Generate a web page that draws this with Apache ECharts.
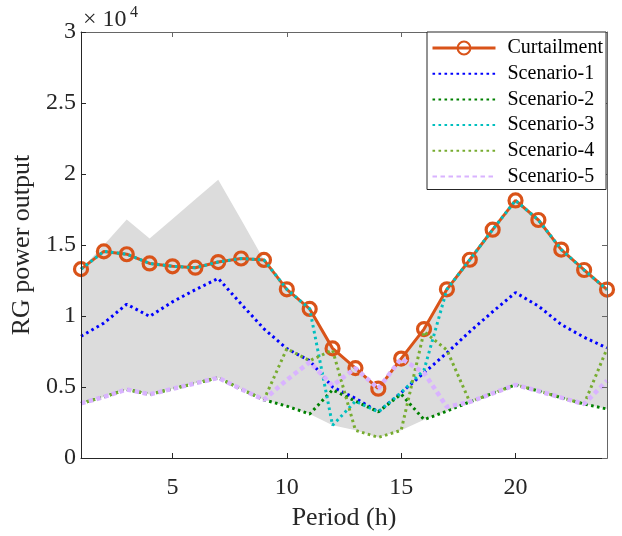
<!DOCTYPE html>
<html>
<head>
<meta charset="utf-8">
<script src="https://cdn.jsdelivr.net/npm/echarts/dist/echarts.min.js"></script>
<style>
html, body { margin: 0; padding: 0; background: #fff; }
#chart { width: 622px; height: 536px; }
</style>
</head>
<body>
<div id="chart"></div>
<script>
// 时段 (h)
const hours = [1, 2, 3, 4, 5, 6, 7, 8, 9, 10, 11, 12, 13, 14, 15, 16, 17, 18, 19, 20, 21, 22, 23, 24];
const xTicks = [5, 10, 15, 20];

// 弃电 / 各场景出力
const curtailment = [13300, 14550, 14350, 13700, 13500, 13400, 13800, 14050, 13950, 11880, 10500, 7720, 6330, 4880, 7000, 9080, 11880, 13960, 16080, 18140, 16760, 14680, 13240, 11860];
const scenario1 = [8570, 9500, 10830, 9970, 11000, 11850, 12650, 10850, 9100, 7700, 6850, 5000, 4200, 3250, 4600, 6000, 7400, 8900, 10300, 11650, 10700, 9400, 8500, 7750];
const scenario2 = [3850, 4300, 4830, 4480, 4870, 5260, 5650, 4850, 4100, 3650, 3100, 4800, 4000, 3250, 4500, 2700, 3300, 3950, 4550, 5150, 4720, 4250, 3800, 3450];
const scenario3 = [13300, 14550, 14350, 13700, 13500, 13400, 13800, 14050, 13950, 11880, 10500, 2300, 4000, 3250, 4600, 6200, 11880, 13960, 16080, 18140, 16760, 14680, 13240, 11860];
const scenario4 = [3850, 4300, 4830, 4480, 4870, 5260, 5650, 4850, 4100, 7700, 6850, 7600, 1950, 1450, 1950, 8900, 7600, 3950, 4550, 5150, 4720, 4250, 3800, 7700];
const scenario5 = [3850, 4300, 4830, 4480, 4870, 5260, 5650, 4850, 4100, 5500, 6750, 5100, 6330, 4880, 7000, 6000, 3600, 3950, 4550, 5150, 4720, 4250, 3800, 5450];

// 灰色区间上下界
const bandUpper = [13300, 15000, 16800, 15450, 16830, 18220, 19600, 16800, 13950, 11880, 10500, 7720, 6330, 4880, 7000, 9080, 11880, 13960, 16080, 18140, 16760, 14680, 13240, 11860];
const bandLower = [3850, 4300, 4830, 4480, 4870, 5260, 5650, 4850, 4100, 3650, 3100, 2300, 1950, 1450, 1950, 2700, 3300, 3950, 4550, 5150, 4720, 4250, 3800, 3450];

const FONT = 'Liberation Serif';
const AXIS = '#262626';
const ORANGE = '#d95319';

const pairs = arr => hours.map((h, i) => [h, arr[i]]);

function dotted(name, data, color, width, dash) {
    return {
        type: 'line',
        name: name,
        data: pairs(data),
        symbol: 'none',
        lineStyle: { color: color, width: width, type: dash, cap: 'butt' },
        itemStyle: { color: color },
        z: 3
    };
}

const scenarioNames = ['Scenario-1', 'Scenario-2', 'Scenario-3', 'Scenario-4', 'Scenario-5'];

var chart = echarts.init(document.getElementById('chart'));

var option = {
    backgroundColor: '#fff',
    animation: false,
    grid: { left: 81, right: 15, top: 32, bottom: 75 },
    graphic: [
        { type: 'text', left: 83, top: 8, style: { text: '× 10', font: '24px "Liberation Serif"', fill: AXIS } },
        { type: 'text', left: 130, top: 5, style: { text: '4', font: '16px "Liberation Serif"', fill: AXIS } }
    ],
    legend: {
        data: [{
            name: 'Curtailment',
            lineStyle: { width: 3, color: ORANGE }
        }].concat(scenarioNames.map(n => ({ name: n, itemStyle: { opacity: 0 } }))),
        orient: 'vertical',
        left: 427,
        top: 32,
        padding: [6, 3, 3, 4],
        itemGap: 5.7,
        itemWidth: 63,
        itemHeight: 16,
        backgroundColor: '#fff',
        borderColor: AXIS,
        borderWidth: 1,
        borderRadius: 0,
        selectedMode: false,
        z: 20,
        textStyle: { fontFamily: FONT, fontSize: 20, color: '#000', lineHeight: 20, padding: [0, 0, 0, 7] }
    },
    xAxis: [{
        type: 'value',
        min: 1,
        max: 24,
        z: 10,
        name: 'Period (h)',
        nameLocation: 'middle',
        nameGap: 47,
        nameTextStyle: { fontFamily: FONT, fontSize: 26, color: AXIS },
        axisLine: { onZero: false, lineStyle: { color: AXIS, width: 1 } },
        axisTick: { inside: true, length: 5, customValues: xTicks, lineStyle: { color: AXIS } },
        axisLabel: { customValues: xTicks, margin: 18, fontFamily: FONT, fontSize: 24, color: AXIS },
        splitLine: { show: false }
    }, {
        type: 'value',
        position: 'top',
        min: 1,
        max: 24,
        z: 10,
        axisLine: { onZero: false, lineStyle: { color: '#666', width: 1 } },
        axisTick: { inside: true, length: 5, customValues: xTicks, lineStyle: { color: '#666' } },
        axisLabel: { show: false },
        splitLine: { show: false }
    }],
    yAxis: [{
        type: 'value',
        min: 0,
        max: 30000,
        interval: 5000,
        z: 10,
        name: 'RG power output',
        nameLocation: 'middle',
        nameGap: 46,
        nameTextStyle: { fontFamily: FONT, fontSize: 26, color: AXIS },
        axisLine: { show: true, onZero: false, lineStyle: { color: AXIS, width: 1 } },
        axisTick: { show: true, inside: true, length: 5, lineStyle: { color: AXIS } },
        axisLabel: {
            margin: 5,
            fontFamily: FONT,
            fontSize: 24,
            color: AXIS,
            formatter: v => String(v / 10000)
        },
        splitLine: { show: false }
    }, {
        type: 'value',
        position: 'right',
        min: 0,
        max: 30000,
        interval: 5000,
        z: 10,
        axisLine: { show: true, onZero: false, lineStyle: { color: '#666', width: 1 } },
        axisTick: { show: true, inside: true, length: 5, lineStyle: { color: '#666' } },
        axisLabel: { show: false },
        splitLine: { show: false }
    }],
    series: [{
        // 区间上界, 灰色填充到 0
        type: 'line',
        name: 'bandUpper',
        data: pairs(bandUpper),
        symbol: 'none',
        silent: true,
        lineStyle: { width: 0, opacity: 0 },
        areaStyle: { color: '#dcdcdc', opacity: 1, origin: 'start' },
        z: 1
    }, {
        // 区间下界以下用白色覆盖
        type: 'line',
        name: 'bandLower',
        data: pairs(bandLower),
        symbol: 'none',
        silent: true,
        lineStyle: { width: 0, opacity: 0 },
        areaStyle: { color: '#ffffff', opacity: 1, origin: 'start' },
        z: 1
    }, {
        type: 'line',
        name: 'Curtailment',
        data: pairs(curtailment),
        symbol: 'circle',
        symbolSize: 13,
        lineStyle: { color: ORANGE, width: 3 },
        itemStyle: { color: 'rgba(0,0,0,0)', borderColor: ORANGE, borderWidth: 3.2 },
        z: 2
    },
        dotted('Scenario-1', scenario1, '#0000ff', 3, [2.6, 3.4]),
        dotted('Scenario-2', scenario2, '#008000', 3, [2.6, 3.4]),
        dotted('Scenario-3', scenario3, '#00bfbf', 3, [2.6, 3.4]),
        dotted('Scenario-4', scenario4, '#77ac30', 3, [2.6, 3.4]),
        dotted('Scenario-5', scenario5, '#d9b3ff', 4.5, [4.5, 3.5])
    ]
};

chart.setOption(option);
</script>
</body>
</html>
